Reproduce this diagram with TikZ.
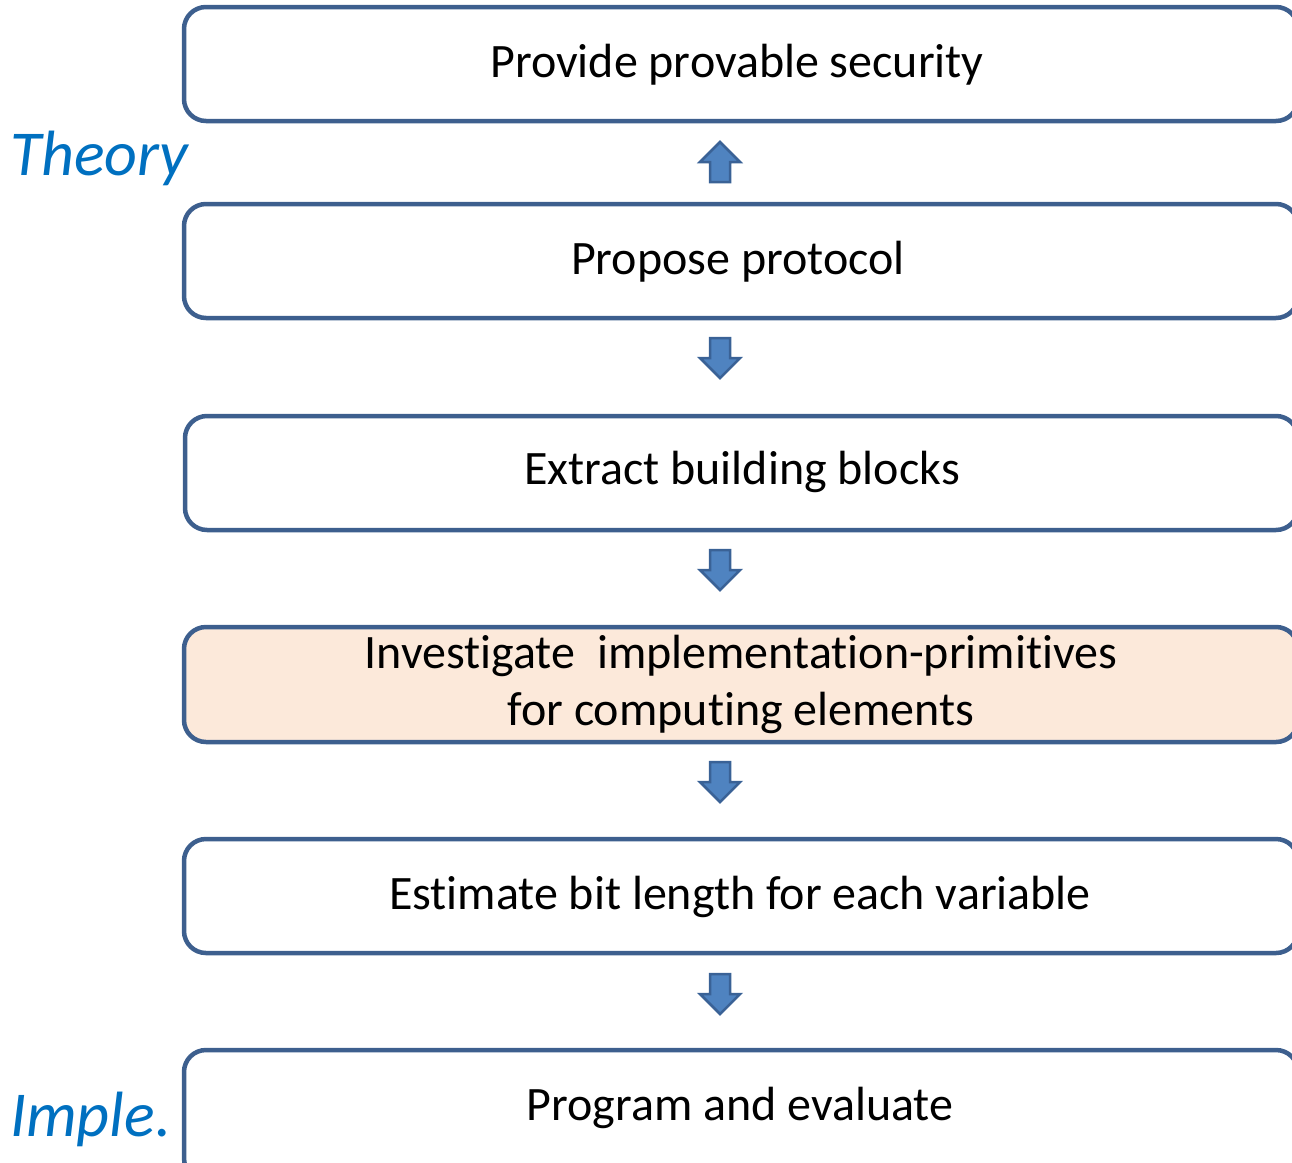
\documentclass[tikz,border=0pt]{standalone}
\usepackage{fontspec}
\setmainfont{Carlito}[Ligatures=NoCommon]
\definecolor{boxline}{HTML}{3D5F8E}
\definecolor{peach}{HTML}{FCE9DA}
\definecolor{arrowfill}{HTML}{4F83C0}
\definecolor{arrowline}{HTML}{3A6296}
\definecolor{sidetext}{HTML}{0070C0}
\begin{document}
\begin{tikzpicture}[x=1pt,y=-1pt,
  stepbox/.style={draw=boxline,line width=4.5pt,rounded corners=22pt,fill=white},
  boxtext/.style={font=\fontsize{48}{57}\selectfont,align=center,inner sep=0pt},
  blockarrow/.style={draw=arrowline,fill=arrowfill,line width=2.5pt,line join=miter},
  side/.style={font=\fontsize{64}{70}\selectfont\itshape,text=sidetext,inner sep=0pt,anchor=west}]
\useasboundingbox (0,0) rectangle (1292,1162);
\begin{scope}
\clip (0,0) rectangle (1292,1162);
\draw[stepbox] (184,7) rectangle (1298,121);
\draw[stepbox] (184,204) rectangle (1298,318);
\draw[stepbox] (185,416) rectangle (1298,530);
\draw[stepbox,fill=peach] (184,627) rectangle (1298,742);
\draw[stepbox] (184,839) rectangle (1298,953);
\draw[stepbox] (184,1050) rectangle (1298,1180);
\end{scope}
\node[boxtext] (t1) at (737,65) {Provide provable security};
\node[boxtext] (t2) at (738,262) {Propose protocol};
\node[boxtext] (t3) at (742,472) {Extract building blocks};
\node[boxtext] (t4) at (741,684) {Investigate\ \ implementation-primitives\\for computing elements};
\node[boxtext] (t5) at (740,897) {Estimate bit length for each variable};
\node[boxtext] (t6) at (740,1108) {Program and evaluate};
\coordinate (a1) at (720,162);
\coordinate (a2) at (720,358);
\coordinate (a3) at (720,570);
\coordinate (a4) at (720,782);
\coordinate (a5) at (720,994);
\draw[blockarrow] ([shift={(0,-20)}]a1) -- ++(20,20) -- ++(-10,0) -- ++(0,20) -- ++(-20,0) -- ++(0,-20) -- ++(-10,0) -- cycle;
\foreach \a in {a2,a3,a4,a5}
  \draw[blockarrow] ([shift={(0,20)}]\a) -- ++(20,-20) -- ++(-10,0) -- ++(0,-20) -- ++(-20,0) -- ++(0,20) -- ++(-10,0) -- cycle;
\node[side] (theory) at (10,158) {Theory};
\node[side] (imple) at (10,1119) {Imple.};
\end{tikzpicture}
\end{document}
